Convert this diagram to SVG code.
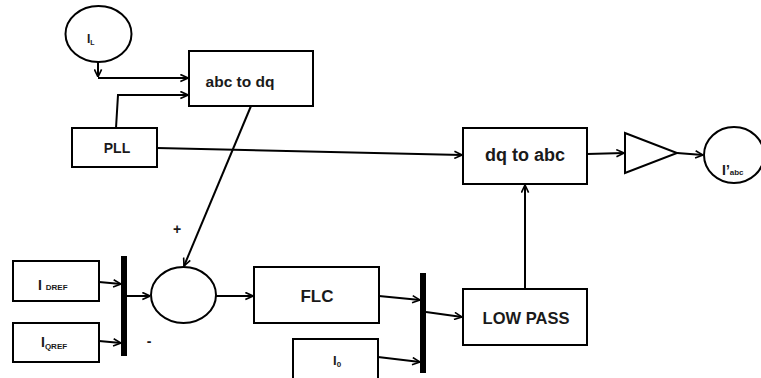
<svg xmlns="http://www.w3.org/2000/svg" width="761" height="378" viewBox="0 0 761 378">
<defs>
<marker id="ah" viewBox="0 0 10 10" refX="9.5" refY="5" markerWidth="9" markerHeight="9" markerUnits="userSpaceOnUse" orient="auto">
<path d="M1,1 L9.5,5 L1,9" fill="none" stroke="#000" stroke-width="1.8"/>
</marker>
</defs>
<style>
.b{fill:#fff;stroke:#000;stroke-width:2}
.t{font-family:"Liberation Sans",Arial,sans-serif;font-weight:bold;fill:#1a1a1a}
.c{fill:none;stroke:#000;stroke-width:2;marker-end:url(#ah)}
.l{fill:none;stroke:#000;stroke-width:2}
.bar{fill:#000}
</style>
<rect width="761" height="378" fill="#fff"/>
<g id="IL"><ellipse class="b" cx="98.5" cy="34" rx="33" ry="28"/><text class="t" x="87" y="43" font-size="12">I<tspan font-size="7" dy="2">L</tspan></text></g>
<g id="abc2dq"><rect class="b" x="189" y="51" width="124" height="55"/><text class="t" x="240" y="87" font-size="15.5" text-anchor="middle">abc to dq</text></g>
<g id="PLL"><rect class="b" x="72" y="128" width="85" height="39"/><text class="t" x="117" y="153" font-size="14" text-anchor="middle">PLL</text></g>
<g id="dq2abc"><rect class="b" x="463" y="128" width="124" height="56"/><text class="t" x="525" y="161" font-size="18" text-anchor="middle">dq to abc</text></g>
<g id="gain"><polygon class="b" points="625,133 677,153 625,173"/></g>
<g id="Iabc"><ellipse class="b" cx="734" cy="155" rx="30" ry="28"/><text class="t" x="722" y="175" font-size="14">I’<tspan font-size="8" dy="0">abc</tspan></text></g>
<g id="IDREF"><rect class="b" x="13" y="261" width="86" height="40"/><text class="t" x="38" y="290" font-size="14">I <tspan font-size="8">DREF</tspan></text></g>
<g id="IQREF"><rect class="b" x="13" y="323" width="86" height="39"/><text class="t" x="41" y="347" font-size="14">I<tspan font-size="8" dy="2">QREF</tspan></text></g>
<g id="mux1"><rect class="bar" x="121" y="256" width="6" height="100"/></g>
<g id="sum"><ellipse class="b" cx="183.5" cy="295" rx="32.5" ry="28"/></g>
<g id="FLC"><rect class="b" x="254" y="267" width="125" height="56"/><text class="t" x="317" y="302" font-size="17" text-anchor="middle">FLC</text></g>
<g id="I0"><rect class="b" x="293" y="339" width="85" height="45"/><text class="t" x="333" y="365" font-size="13">I<tspan font-size="8" dy="2">0</tspan></text></g>
<g id="mux2"><rect class="bar" x="420" y="273" width="6" height="100"/></g>
<g id="LP"><rect class="b" x="463" y="289" width="124" height="56"/><text class="t" x="526" y="324" font-size="16.5" text-anchor="middle">LOW PASS</text></g>
<g id="labels"><text class="t" x="177" y="234" font-size="14" font-weight="normal" text-anchor="middle">+</text><text class="t" x="149" y="346" font-size="14" font-weight="normal" text-anchor="middle">-</text></g>
<g id="connectors">
<path class="c" d="M98,62 L98,77"/>
<path class="c" d="M98,78 L188,78"/>
<path class="c" d="M116,128 L118,95 L188,95"/>
<path class="c" d="M157,148 L462,155"/>
<path class="c" d="M251,106 L184,266"/>
<path class="c" d="M99,282 L121,284"/>
<path class="c" d="M99,341 L121,343"/>
<path class="c" d="M127,296 L150,296"/>
<path class="c" d="M216,296 L253,296"/>
<path class="c" d="M379,296 L420,300"/>
<path class="c" d="M378,357 L420,362"/>
<path class="c" d="M426,312 L462,317"/>
<path class="c" d="M525,289 L525,185"/>
<path class="c" d="M587,154 L624,153"/>
<path class="c" d="M677,153 L703,155"/>
</g>
</svg>
